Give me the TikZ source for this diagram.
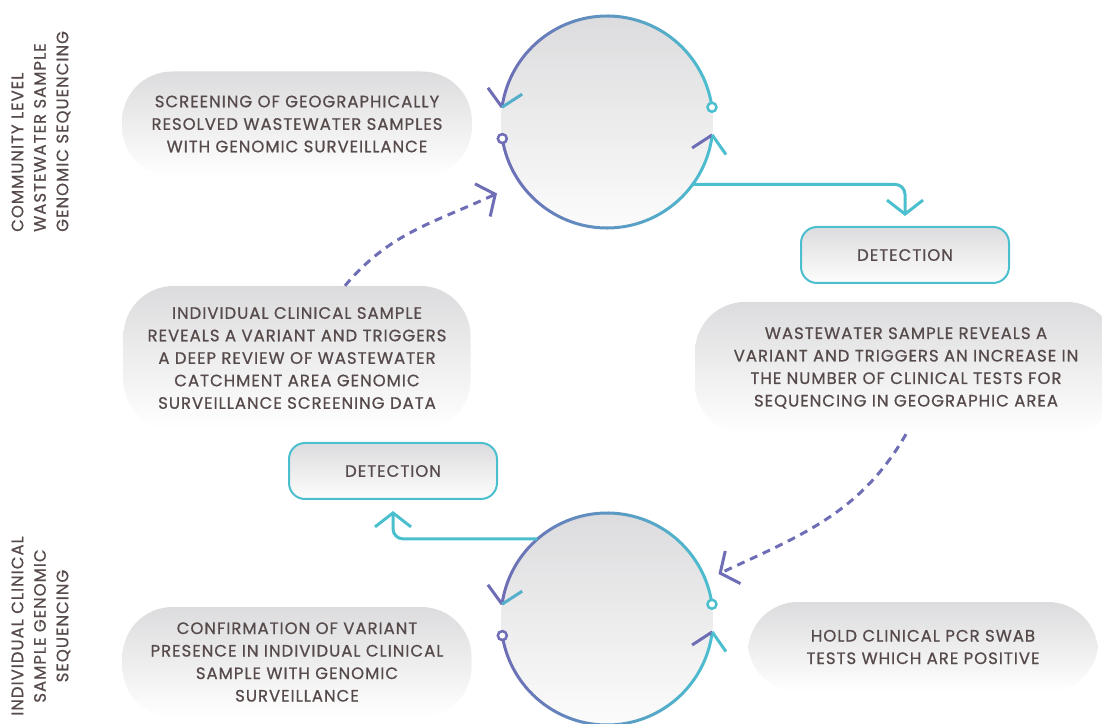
\documentclass[tikz,border=0pt]{standalone}
\usepackage{fontspec}
\setmainfont{Poppins}[LetterSpace=6, FakeBold=0.7]
\usetikzlibrary{arrows.meta}
\definecolor{cpurple}{HTML}{6E6DB5}
\definecolor{cteal}{HTML}{4CBFCF}
\definecolor{ctext}{HTML}{564A4A}
\definecolor{cgray}{HTML}{DCDCDE}

\begin{document}
\begin{tikzpicture}[x=1pt,y=1pt,
    font=\fontsize{16.5}{22.5}\selectfont, text=ctext,
    sidelabel/.style={rotate=90, inner sep=0pt, font=\fontsize{16.5}{22.5}\selectfont},
    infobox/.style={rounded corners=50pt, top color=cgray, bottom color=white, align=center, inner sep=0pt},
    detbox/.style={draw=cteal, line width=2pt, rounded corners=16pt, top color=cgray, bottom color=white!95!cgray, minimum width=208pt, minimum height=56pt},
    cyc/.style={circle, inner sep=0pt, minimum size=212pt, top color=cgray, bottom color=white!90!cgray},
    solidlink/.style={cteal, line width=3pt, rounded corners=10pt, -{Straight Barb[length=14pt,width=36pt]}},
    dashlink/.style={cpurple, line width=3pt, dash pattern=on 8pt off 6pt, -{Straight Barb[length=14pt,width=36pt]}},
  ]
            % Fix the size of the picture
            \useasboundingbox (0,0) rectangle (1102,723);

            % Draw the side labels
            \node[sidelabel, align=left, anchor=west] (toplabel) at (41,491) {COMMUNITY LEVEL\\WASTEWATER SAMPLE\\GENOMIC SEQUENCING};
            \node[sidelabel, align=center] (botlabel) at (41,97) {INDIVIDUAL CLINICAL\\SAMPLE GENOMIC\\SEQUENCING};

            % Draw the text boxes
            \node[infobox, minimum width=350pt, minimum height=105pt] (screen) at (297,599)
                {SCREENING OF GEOGRAPHICALLY\\RESOLVED WASTEWATER SAMPLES\\WITH GENOMIC SURVEILLANCE};
            \node[infobox, minimum width=347pt, minimum height=144pt] (review) at (297,365)
                {INDIVIDUAL CLINICAL SAMPLE\\REVEALS A VARIANT AND TRIGGERS\\A DEEP REVIEW OF WASTEWATER\\CATCHMENT AREA GENOMIC\\SURVEILLANCE SCREENING DATA};
            \node[infobox, minimum width=422pt, minimum height=132pt] (increase) at (906,355)
                {WASTEWATER SAMPLE REVEALS A\\VARIANT AND TRIGGERS AN INCREASE IN\\THE NUMBER OF CLINICAL TESTS FOR\\SEQUENCING IN GEOGRAPHIC AREA};
            \node[infobox, minimum width=349pt, minimum height=110pt] (confirm) at (297,61)
                {CONFIRMATION OF VARIANT\\PRESENCE IN INDIVIDUAL CLINICAL\\SAMPLE WITH GENOMIC\\SURVEILLANCE};
            \node[infobox, minimum width=350pt, minimum height=90pt] (hold) at (923,76)
                {HOLD CLINICAL PCR SWAB\\TESTS WHICH ARE POSITIVE};

            % Draw the detection boxes
            \node[detbox] (topdet) at (905,468) {DETECTION};
            \node[detbox] (botdet) at (393,252) {DETECTION};

            % Draw the two cycles
            \node[cyc] (topcyc) at (607,601) {};
            \node[cyc] (botcyc) at (607,104) {};

            \begin{scope}[shift={(topcyc.center)}]
            \shade[left color=cpurple, right color=cteal] (189:107.5) arc[start angle=189, end angle=353, radius=107.5]
                -- (353:104.5) arc[start angle=353, end angle=189, radius=104.5] -- cycle;
            \shade[left color=cpurple, right color=cteal] (8:107.5) arc[start angle=8, end angle=172, radius=107.5]
                -- (172:104.5) arc[start angle=172, end angle=8, radius=104.5] -- cycle;
            \draw[cpurple, line width=3pt] (172:106) -- ++(126:24);
            \draw[cteal!80!cpurple, line width=3pt] (172:106) -- ++(33:24);
            \draw[cpurple, line width=3pt] (353:106) -- ++(213:24);
            \draw[cteal, line width=3pt] (353:106) -- ++(305:24);
            \draw[cpurple, line width=2.5pt, fill=white] (189:106) circle (4.5);
            \draw[cteal, line width=2.5pt, fill=white] (8:106) circle (4.5);
            \end{scope}

            \begin{scope}[shift={(botcyc.center)}]
            \shade[left color=cpurple, right color=cteal] (189:107.5) arc[start angle=189, end angle=353, radius=107.5]
                -- (353:104.5) arc[start angle=353, end angle=189, radius=104.5] -- cycle;
            \shade[left color=cpurple, right color=cteal] (8:107.5) arc[start angle=8, end angle=172, radius=107.5]
                -- (172:104.5) arc[start angle=172, end angle=8, radius=104.5] -- cycle;
            \draw[cpurple, line width=3pt] (172:106) -- ++(126:24);
            \draw[cteal!80!cpurple, line width=3pt] (172:106) -- ++(33:24);
            \draw[cpurple, line width=3pt] (353:106) -- ++(213:24);
            \draw[cteal, line width=3pt] (353:106) -- ++(305:24);
            \draw[cpurple, line width=2.5pt, fill=white] (189:106) circle (4.5);
            \draw[cteal, line width=2.5pt, fill=white] (8:106) circle (4.5);
            \end{scope}

            % Draw the detection links
            \draw[solidlink] (topcyc.-36) -| ([yshift=10pt]topdet.north);
            \draw[solidlink] (botcyc.131) -| ([yshift=-11pt]botdet.south);

            % Draw the trigger links
            \draw[dashlink] ([xshift=48pt]review.north) to[out=50, in=205] ([shift={(213:25)}]topcyc.213);
            \draw[dashlink] (increase.south) to[out=240, in=25] ([shift={(22:14)}]botcyc.22);
\end{tikzpicture}
\end{document}
